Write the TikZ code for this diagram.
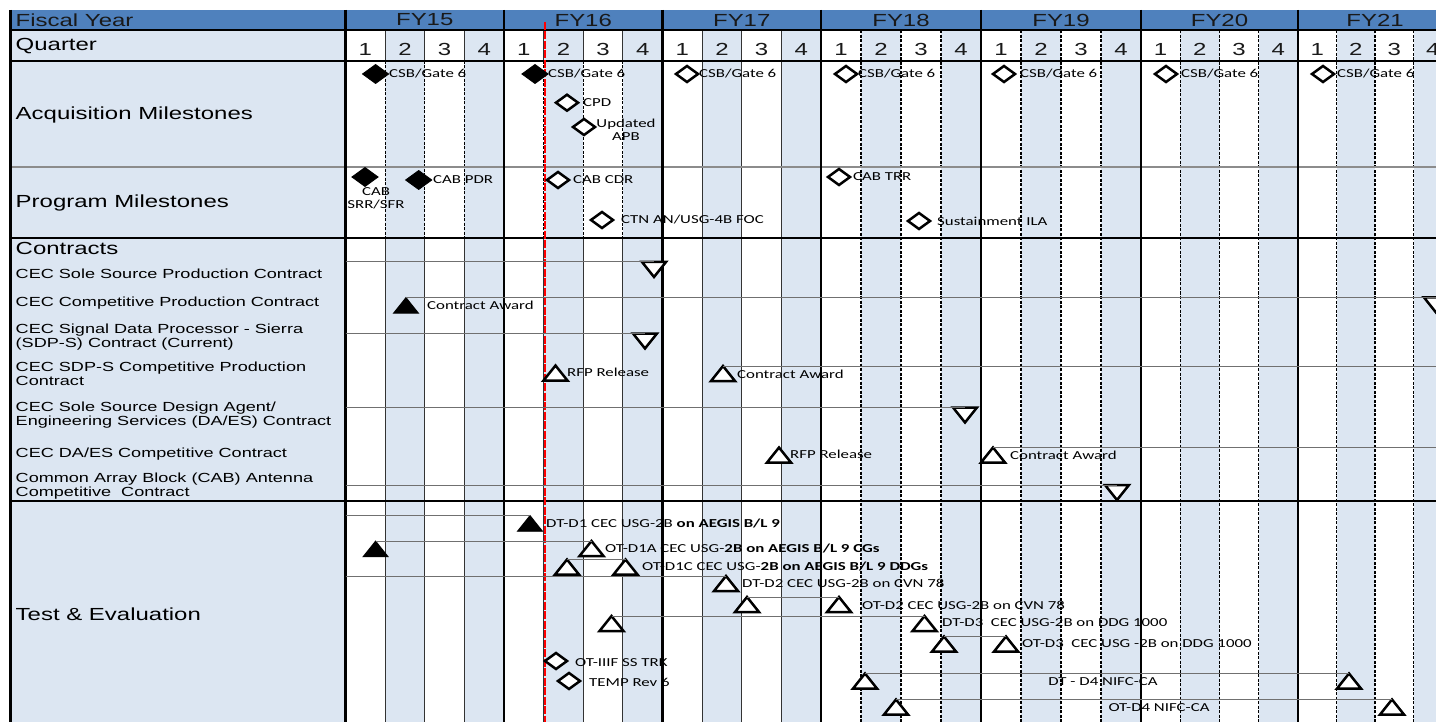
\documentclass[tikz,border=0pt]{standalone}
\usepackage{fontspec}
\setmainfont{Liberation Sans}[FakeStretch=1.37]
\newfontfamily\msfont{Carlito}[FakeStretch=1.38]
\usetikzlibrary{shapes.geometric}
\definecolor{hdrblue}{HTML}{4F81BD}
\definecolor{lightblue}{HTML}{DCE6F2}
\definecolor{conngray}{HTML}{707070}
\begin{document}
\begin{tikzpicture}[x=1pt,y=-1pt,
  hdr/.style={font=\fontsize{17.5}{20}\selectfont, text=black!90, inner sep=0pt},
  rowlab/.style={font=\fontsize{17.5}{20}\selectfont, anchor=west, inner sep=0pt},
  clab/.style={font=\fontsize{13.2}{14}\selectfont, anchor=west, align=left, inner sep=0pt},
  mlab/.style={font=\msfont\fontsize{12.2}{13.3}\selectfont, anchor=west, inner sep=0pt},
  clabc/.style={font=\msfont\fontsize{12.2}{13.3}\selectfont, align=center, inner sep=0pt},
  mk/.style={inner sep=0pt, outer sep=0pt, xscale=1.38},
  fdia/.style={mk, diamond, minimum size=19pt, fill=black, draw=black, line width=0.8pt},
  odia/.style={mk, diamond, minimum size=16pt, fill=white, draw=black, line width=2.5pt},
  ftri/.style={mk, regular polygon, regular polygon sides=3, minimum size=21pt, fill=black, draw=black, line width=0.8pt},
  otri/.style={mk, regular polygon, regular polygon sides=3, minimum size=20pt, fill=white, draw=black, line width=2.5pt},
  dtri/.style={otri, shape border rotate=180},
  conn/.style={draw=conngray, line width=1pt},
  qsolid/.style={draw=black!80, line width=1.2pt},
  qdash/.style={draw=black, line width=1.2pt, dash pattern=on 3pt off 1.5pt},
  fyline/.style={draw=black, line width=2.6pt},
  hline/.style={draw=black, line width=2.6pt}
]
\useasboundingbox (0,0) rectangle (1436,722);
\clip (0,0) rectangle (1436,722);
% backgrounds
\fill[white] (0,0) rectangle (1436,722);
\fill[lightblue] (10,30.5) rectangle (345.5,722);
\fill[hdrblue] (10,10) rectangle (1436,30.5);
\foreach \a/\b in {345.5/504, 504/662.5, 662.5/821, 821/981, 981/1141, 1141/1298, 1298/1452} {
  \pgfmathsetmacro\qa{\a+(\b-\a)/4}
  \pgfmathsetmacro\qb{\a+(\b-\a)/2}
  \pgfmathsetmacro\qc{\a+3*(\b-\a)/4}
  \fill[lightblue] (\qa,30.5) rectangle (\qb,722);
  \fill[lightblue] (\qc,30.5) rectangle (\b,722);
}
% quarter lines FY15, FY16
\foreach \a/\b in {345.5/504, 504/662.5} {
  \foreach \j in {1,2,3} {
    \pgfmathsetmacro\qx{\a+\j*(\b-\a)/4}
    \draw[qsolid] (\qx,30.5) -- (\qx,61);
    \draw[qdash] (\qx,61) -- (\qx,238);
    \draw[qsolid] (\qx,238) -- (\qx,722);
  }
}
% FY17
\foreach \j in {1,2,3} {
  \pgfmathsetmacro\qx{662.5+\j*(821-662.5)/4}
  \draw[qsolid] (\qx,30.5) -- (\qx,722);
}
% FY18-FY21
\foreach \a/\b in {821/981, 981/1141, 1141/1298, 1298/1452} {
  \foreach \j in {1,2,3} {
    \pgfmathsetmacro\qx{\a+\j*(\b-\a)/4}
    \draw[qdash] (\qx,30.5) -- (\qx,722);
  }
}
% horizontal rules
\draw[line width=2pt] (10,30.5) -- (1436,30.5);
\draw[hline] (10,61) -- (1436,61);
\draw[draw=black!45, line width=1.5pt] (10,167) -- (1436,167);
\draw[hline] (10,238) -- (1436,238);
\draw[hline] (10,501) -- (1436,501);
% fiscal year separators
\foreach \a in {504,662.5,821,981,1141,1298} {
  \draw[fyline] (\a,10) -- (\a,722);
}
\draw[line width=3pt] (345.5,10) -- (345.5,722);
\draw[line width=3pt] (10,10) -- (10,722);
% today line
\coordinate (r0) at (545,22);
\coordinate (r1) at (545,722);
\draw[red, line width=1.3pt, dash pattern=on 8pt off 1.5pt] (r0) -- (r1);

% header texts
\node[hdr, anchor=west] (lfy) at (15.5,20) {Fiscal Year};
\node[hdr] (fy15) at (424.75,20) {FY15};
\node[hdr] (fy16) at (583.25,20) {FY16};
\node[hdr] (fy17) at (741.75,20) {FY17};
\node[hdr] (fy18) at (901,20) {FY18};
\node[hdr] (fy19) at (1061,20) {FY19};
\node[hdr] (fy20) at (1219.5,20) {FY20};
\node[hdr] (fy21) at (1375,20) {FY21};
\foreach \a/\b/\k in {345.5/504/15, 504/662.5/16, 662.5/821/17, 821/981/18, 981/1141/19, 1141/1298/20, 1298/1452/21} {
  \foreach \j in {1,2,3,4} {
    \pgfmathsetmacro\qx{\a+(\j-0.5)*(\b-\a)/4}
    \node[hdr] (q\k-\j) at (\qx,49) {\j};
  }
}
% row labels
\node[rowlab] (lq) at (15.5,46) {Quarter};
\node[rowlab] (lacq) at (15.5,115) {Acquisition Milestones};
\node[rowlab] (lprog) at (15.5,203) {Program Milestones};
\node[rowlab] (lcon) at (15.5,248) {Contracts};
\node[clab] (lc1) at (15.5,274) {CEC Sole Source Production Contract};
\node[clab] (lc2) at (15.5,303) {CEC Competitive Production Contract};
\node[clab] (lc3) at (15.5,337) {CEC Signal Data Processor - Sierra\\(SDP-S) Contract (Current)};
\node[clab] (lc4) at (15.5,374) {CEC SDP-S Competitive Production\\Contract};
\node[clab] (lc5) at (15.5,415) {CEC Sole Source Design Agent/\\Engineering Services (DA/ES) Contract};
\node[clab] (lc6) at (15.5,454) {CEC DA/ES Competitive Contract};
\node[clab] (lc7) at (15.5,486) {Common Array Block (CAB) Antenna\\Competitive\ \ Contract};
\node[rowlab] (lte) at (15.5,614) {Test \& Evaluation};

% acquisition milestones
\node[fdia] (a1) at (375.6,74) {};
\node[mlab] (a1l) at (389,74) {CSB/Gate 6};
\node[fdia] (a2) at (535,74) {};
\node[mlab] (a2l) at (548,74) {CSB/Gate 6};
\node[odia] (a3) at (687,74) {};
\node[mlab] (a3l) at (699,74) {CSB/Gate 6};
\node[odia] (a4) at (846,74) {};
\node[mlab] (a4l) at (858,74) {CSB/Gate 6};
\node[odia] (a5) at (1004,74) {};
\node[mlab] (a5l) at (1020,74) {CSB/Gate 6};
\node[odia] (a6) at (1166,74) {};
\node[mlab] (a6l) at (1181,74) {CSB/Gate 6};
\node[odia] (a7) at (1323,74) {};
\node[mlab] (a7l) at (1337,74) {CSB/Gate 6};
\node[odia] (a8) at (567,102.7) {};
\node[mlab] (a8l) at (583,102.7) {CPD};
\node[odia] (a9) at (584,127) {};
\node[clabc] (a9l) at (626,129.5) {Updated\\APB};

% program milestones
\node[fdia] (p1) at (365,177) {};
\node[clabc] (p1l) at (376,198) {CAB\\SRR/SFR};
\node[fdia] (p2) at (418.7,180) {};
\node[mlab] (p2l) at (433,180) {CAB PDR};
\node[odia] (p3) at (558,180) {};
\node[mlab] (p3l) at (573,180) {CAB CDR};
\node[odia] (p4) at (602,220) {};
\node[mlab] (p4l) at (621,220) {CTN AN/USG-4B FOC};
\node[odia] (p5) at (839,177) {};
\node[mlab] (p5l) at (853,177) {CAB TRR};
\node[odia] (p6) at (919,221) {};
\node[mlab] (p6l) at (937,221) {Sustainment ILA};

% contracts
\coordinate (cA0) at (345.5,262);
\node[dtri, anchor=side 2] (cA1) at (654,262) {};
\draw[conn] (cA0) -- (cA1.side 2);

\node[ftri, anchor=corner 1] (cB1) at (406,297.5) {};
\node[mlab] (cB1l) at (427,305) {Contract Award};
\node[dtri, anchor=side 2] (cB2) at (1436,297.5) {};
\draw[conn] (cB1.corner 1) -- (cB2.side 2);

\coordinate (cC0) at (345.5,333.5);
\node[dtri, anchor=side 2] (cC1) at (645,333.5) {};
\draw[conn] (cC0) -- (cC1.side 2);

\node[otri, anchor=corner 1] (cD1) at (555.5,365.5) {};
\node[mlab] (cD1l) at (567,372) {RFP Release};
\node[otri, anchor=corner 1] (cD2) at (723,366) {};
\node[mlab] (cD2l) at (737,374) {Contract Award};
\coordinate (cD9) at (1436,366);
\draw[conn] (cD2.corner 1) -- (cD9);

\coordinate (cE0) at (345.5,407.5);
\node[dtri, anchor=side 2] (cE1) at (965,407.5) {};
\draw[conn] (cE0) -- (cE1.side 2);

\node[otri, anchor=corner 1] (cF1) at (779,447.5) {};
\node[mlab] (cF1l) at (790,454) {RFP Release};
\node[otri, anchor=corner 1] (cF2) at (993,447.5) {};
\node[mlab] (cF2l) at (1010,455) {Contract Award};
\coordinate (cF9) at (1436,447.5);
\draw[conn] (cF2.corner 1) -- (cF9);

\coordinate (cG0) at (345.5,485);
\node[dtri, anchor=side 2] (cG1) at (1117,485) {};
\draw[conn] (cG0) -- (cG1.side 2);

% test & evaluation
\coordinate (t0a) at (345.5,515.5);
\node[ftri, anchor=corner 1] (t1) at (530,515.5) {};
\draw[conn] (t0a) -- (t1.corner 1);
\node[mlab] (t1l) at (546,523) {DT-D1 CEC USG-2B \textbf{on AEGIS B/L 9}};

\node[ftri, anchor=corner 1] (t2) at (375.6,541) {};
\node[otri, anchor=corner 1] (t3) at (591.5,541) {};
\draw[conn] (t2.corner 1) -- (t3.corner 1);
\node[mlab] (t3l) at (605,548.5) {OT-D1A CEC USG-\textbf{2B on AEGIS B/L 9 CGs}};

\node[otri, anchor=corner 1] (t4) at (567,559.5) {};
\node[otri, anchor=corner 1] (t5) at (625.5,559.5) {};
\draw[conn] (t4.corner 1) -- (t5.corner 1);
\node[mlab] (t5l) at (642,566.5) {OT-D1C CEC USG-\textbf{2B on AEGIS B/L 9 DDGs}};

\coordinate (t0b) at (345.5,576);
\node[otri, anchor=corner 1] (t6) at (726,576) {};
\draw[conn] (t0b) -- (t6.corner 1);
\node[mlab] (t6l) at (742,583) {DT-D2 CEC USG-2B on CVN 78};

\node[otri, anchor=corner 1] (t7) at (747,597) {};
\node[otri, anchor=corner 1] (t8) at (839,597) {};
\draw[conn] (t7.corner 1) -- (t8.corner 1);
\node[mlab] (t8l) at (862,605) {OT-D2 CEC USG-2B on CVN 78};

\node[otri, anchor=corner 1] (t9) at (611.5,616) {};
\node[otri, anchor=corner 1] (t10) at (924.5,616) {};
\draw[conn] (t9.corner 1) -- (t10.corner 1);
\node[mlab] (t10l) at (942,623) {DT-D3\ \ CEC USG-2B on DDG 1000};

\node[otri, anchor=corner 1] (t11) at (944,636.5) {};
\node[otri, anchor=corner 1] (t12) at (1006,636.5) {};
\draw[conn] (t11.corner 1) -- (t12.corner 1);
\node[mlab] (t12l) at (1022,644) {OT-D3\ \ CEC USG -2B on DDG 1000};

\node[odia] (t13) at (556,661) {};
\node[mlab] (t13l) at (575,662.5) {OT-IIIF SS TRK};
\node[odia] (t14) at (569,681) {};
\node[mlab] (t14l) at (589,682.5) {TEMP Rev 6};

\node[otri, anchor=corner 1] (t15) at (865,673.5) {};
\node[otri, anchor=corner 1] (t16) at (1349,673.5) {};
\draw[conn] (t15.corner 1) -- (t16.corner 1);
\node[clabc] (t16l) at (1103,682) {DT - D4 NIFC-CA};

\node[otri, anchor=corner 1] (t17) at (896,699.5) {};
\node[otri, anchor=corner 1] (t18) at (1392,699.5) {};
\draw[conn] (t17.corner 1) -- (t18.corner 1);
\node[clabc] (t18l) at (1159,707.5) {OT-D4 NIFC-CA};
\end{tikzpicture}
\end{document}
